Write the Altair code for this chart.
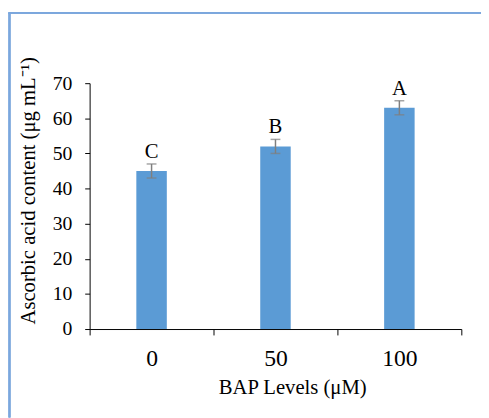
import altair as alt
import pandas as pd

levels = ["0", "50", "100"]
means = [45, 52, 63]
errs = [2, 2, 2]
letters = ["C", "B", "A"]
yticks = [0, 10, 20, 30, 40, 50, 60, 70]

df = pd.DataFrame({"level": levels, "mean": means, "err": errs, "letter": letters})
df["lo"] = df["mean"] - df["err"]
df["hi"] = df["mean"] + df["err"]

FONT = "Liberation Serif"
base = alt.Chart(df)

xaxis = alt.Axis(
    title="BAP Levels (μM)", labelAngle=0, tickBand="extent",
    labelFontSize=24, labelFont=FONT, labelColor="black", labelPadding=12,
    tickSize=6, tickColor="black", domainColor="black",
    titleFontSize=21, titleFont=FONT, titleFontWeight="normal", titleColor="black",
    titleX=206, titleY=66, titleBaseline="alphabetic", titleAlign="center",
    grid=False,
)
xscale = alt.Scale(paddingInner=0, paddingOuter=0)
yaxis = alt.Axis(
    title="Ascorbic acid content (μg mL⁻¹)", values=yticks, tickCount=8,
    labelOverlap=False, labelFlush=False,
    labelFontSize=20, labelFont=FONT, labelColor="black", labelPadding=13,
    tickSize=5, tickColor="black", domainColor="black",
    titleFontSize=21, titleFont=FONT, titleFontWeight="normal", titleColor="black",
    titleAngle=-90, titleX=-56, titleY=109, titleBaseline="alphabetic", titleAlign="center",
    grid=False,
)
yscale = alt.Scale(domain=[0, 70], nice=False, zero=True)

def X():
    return alt.X("level:N", sort=levels, scale=xscale, axis=xaxis)

def Y(field):
    return alt.Y(field, scale=yscale, axis=yaxis)

bars = base.mark_bar(size=31, color="#5B9BD5").encode(x=X(), y=Y("mean:Q"))
err = base.mark_rule(color="#7F7F7F", strokeWidth=1.5).encode(x=X(), y=Y("lo:Q"), y2="hi:Q")
cap_lo = base.mark_tick(color="#7F7F7F", size=10, thickness=1.5, orient="horizontal").encode(x=X(), y=Y("lo:Q"))
cap_hi = base.mark_tick(color="#7F7F7F", size=10, thickness=1.5, orient="horizontal").encode(x=X(), y=Y("hi:Q"))
text = base.mark_text(dy=-6, baseline="alphabetic", font=FONT, fontSize=21, color="black").encode(
    x=X(), y=Y("hi:Q"), text="letter:N")

frame_left = base.mark_rule(color="#7BA7DD", strokeWidth=2).encode(
    x=alt.value(-81.5), y=alt.value(-71.5), y2=alt.value(340))
frame_top = base.mark_rule(color="#7BA7DD", strokeWidth=2).encode(
    x=alt.value(-82.5), x2=alt.value(420), y=alt.value(-71.5))

chart = alt.layer(bars, err, cap_lo, cap_hi, text, frame_left, frame_top).properties(
    width=378, height=250,
    autosize=alt.AutoSizeParams(type="none"),
    padding={"left": 83, "top": 73, "right": 20, "bottom": 87},
    background="white",
).configure_view(stroke=None)

chart.save("out.html", embed_options={"renderer": "svg", "actions": False})
